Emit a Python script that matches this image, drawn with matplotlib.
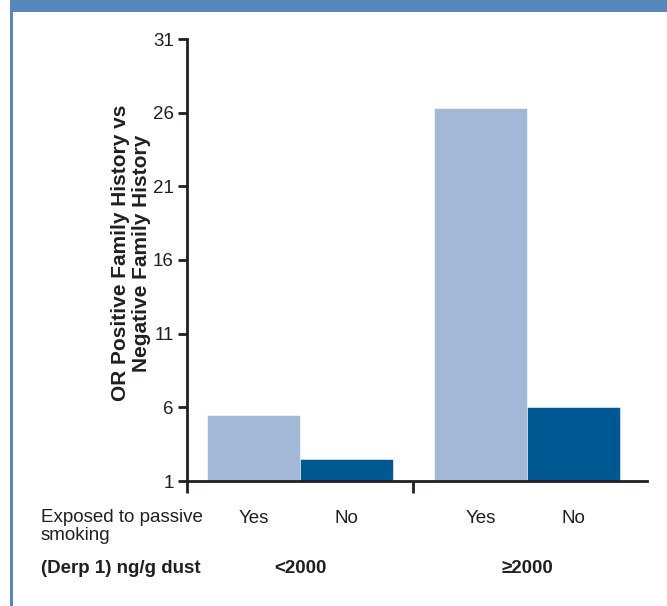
import matplotlib
matplotlib.use("Agg")
import matplotlib.pyplot as plt
import matplotlib.transforms as mtransforms
from matplotlib.patches import Rectangle
import numpy as np

plt.rcParams['font.family'] = ['Liberation Sans', 'DejaVu Sans']

# data
dust_groups = ["<2000", "\u22652000"]
smoking_labels = ["Yes", "No"]
or_exposed = [5.5, 26.3]       # exposed to passive smoking: Yes
or_not_exposed = [2.5, 6.0]    # exposed to passive smoking: No
y_ticks = [1, 6, 11, 16, 21, 26, 31]

light_blue = "#A3B8D6"
dark_blue = "#005893"
frame_blue = "#5588B8"
ink = "#231F20"

fig = plt.figure(figsize=(6.67, 6.06), dpi=100)
ax = fig.add_axes([187/667, 125/606, 460/667, 442/606])

# group layout (bar width = 1)
group_x = np.array([1.215, 3.656])
ax.bar(group_x - 0.5, or_exposed, width=1.0, color=light_blue, edgecolor="white", linewidth=0.4)
ax.bar(group_x + 0.5, or_not_exposed, width=1.0, color=dark_blue, edgecolor="white", linewidth=0.4)

ax.set_ylim(1, 31)
ax.set_xlim(0, 4.946)
ax.set_yticks(y_ticks)
ax.tick_params(axis="y", direction="out", length=6.5, width=2, color=ink,
               labelsize=13.5, pad=3, labelcolor=ink)

# major x ticks only as separators, minor ticks carry the Yes/No labels
ax.set_xticks([0, 2.43])
ax.set_xticklabels([])
ax.tick_params(axis="x", which="major", direction="out", length=8.6, width=2, color=ink)
bar_centers = np.concatenate([group_x - 0.5, group_x + 0.5])
ax.set_xticks(sorted(bar_centers), minor=True)
ax.set_xticklabels(smoking_labels * 2, minor=True)
ax.tick_params(axis="x", which="minor", length=0, labelsize=13.5, pad=21, labelcolor=ink)

for side in ["top", "right"]:
    ax.spines[side].set_visible(False)
for side in ["left", "bottom"]:
    ax.spines[side].set_linewidth(2)
    ax.spines[side].set_color(ink)

fig.text(131/667, 1 - 253/606, "OR Positive Family History vs\nNegative Family History",
         rotation=90, ha="center", va="center", multialignment="center",
         fontsize=15, fontweight="bold", color=ink, linespacing=1.08)

fig.text(41/667, 1 - 509/606, "Exposed to passive\nsmoking", ha="left", va="top",
         fontsize=13.5, color=ink, linespacing=1.05)
fig.text(41/667, 1 - 573/606, "(Derp 1) ng/g dust", ha="left", va="baseline",
         fontsize=13.5, fontweight="bold", color=ink)

trans = mtransforms.blended_transform_factory(ax.transData, fig.transFigure)
for gx, name in zip(group_x, dust_groups):
    ax.text(gx, 1 - 573/606, name, transform=trans, ha="center", va="baseline",
            fontsize=13.5, fontweight="bold", color=ink)

# frame: header bar and left border
fig.add_artist(Rectangle((10/667, 1 - 12/606), 1, 12/606, transform=fig.transFigure,
                         color=frame_blue, linewidth=0))
fig.add_artist(Rectangle((10/667, 0), 3/667, 1, transform=fig.transFigure,
                         color=frame_blue, linewidth=0))

fig.savefig("out.png", dpi=100)
